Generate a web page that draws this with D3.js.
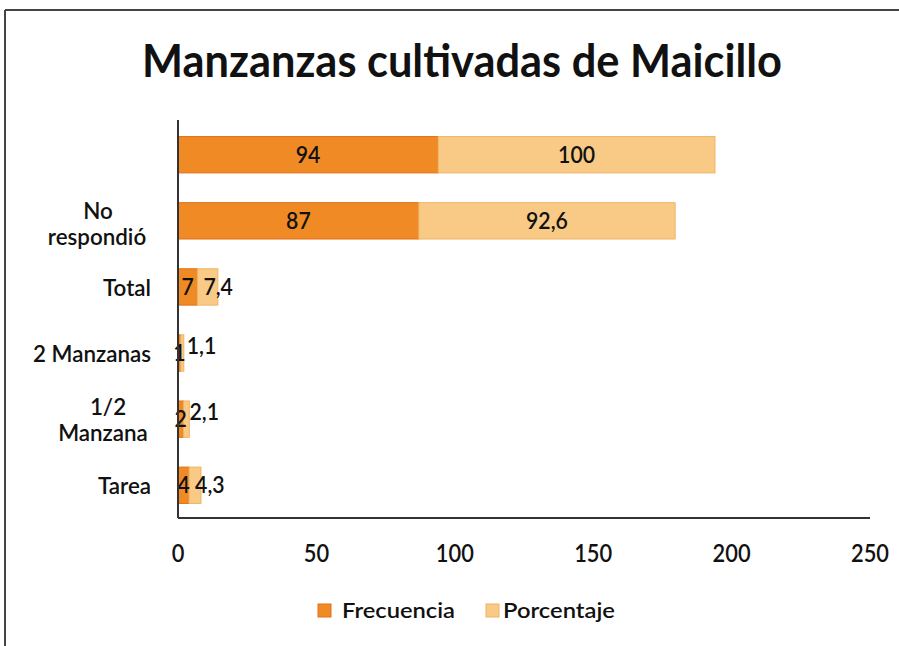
<!DOCTYPE html>
<html><head><meta charset="utf-8">
<script src="https://cdn.jsdelivr.net/npm/d3@7"></script>
<style>body{margin:0;background:#fff}svg{display:block}text{font-family:Lato,"Open Sans",sans-serif}</style>
</head><body>
<script>
const categories = ["", "No respondió", "Total", "2 Manzanas", "1/2 Manzana", "Tarea"];
const frecuencia = [94, 87, 7, 1, 2, 4];
const porcentaje = [100, 92.6, 7.4, 1.1, 2.1, 4.3];
const seriesNames = ["Frecuencia", "Porcentaje"];
const xTicks = [0, 50, 100, 150, 200, 250];
const title = "Manzanzas cultivadas de Maicillo";

const W = 899, H = 646;
const colors = ["#F08A24", "#F8CA86"];
const strokes = ["#E2701A", "#F0B464"];
const fmt = v => String(v).replace(".", ",");

const svg = d3.select("body").append("svg").attr("width", W).attr("height", H);
svg.append("rect").attr("width", W).attr("height", H).attr("fill", "#fff");
svg.append("line").attr("x1", 5).attr("x2", W).attr("y1", 10).attr("y2", 10).attr("stroke", "#444").attr("stroke-width", 2);
svg.append("line").attr("x1", 5).attr("x2", 5).attr("y1", 10).attr("y2", H).attr("stroke", "#444").attr("stroke-width", 2);

// measure helper: scale factor so that `sample` at given size/weight has width `target`
function scaleFor(sample, size, weight, target) {
  const t = svg.append("text").attr("font-size", size).attr("font-weight", weight).text(sample);
  const w = t.node().getComputedTextLength();
  t.remove();
  return target / w;
}
function txt(parent, s, x, y, size, weight, sx, anchor) {
  return parent.append("text").attr("transform", `translate(${x},${y}) scale(${sx},1)`)
    .attr("text-anchor", anchor).attr("font-size", size).attr("font-weight", weight).attr("fill", "#111").text(s);
}

const sTitle = scaleFor(title, 46, 700, 640);
txt(svg, title, 462, 77, 46, 700, sTitle, "middle");

const x = d3.scaleLinear().domain([0, 250]).range([178, 870]);
const y = d3.scaleBand().domain(d3.range(categories.length)).range([122, 518]).paddingInner(0.45).paddingOuter(0.22);

const rows = categories.map((c, i) => ({i, c, f: frecuencia[i], p: porcentaje[i]}));

const g = svg.append("g");
rows.forEach(r => {
  g.append("rect").attr("x", x(0)).attr("y", y(r.i)).attr("width", x(r.f) - x(0)).attr("height", y.bandwidth())
    .attr("fill", colors[0]).attr("stroke", strokes[0]).attr("stroke-width", 1);
  g.append("rect").attr("x", x(r.f)).attr("y", y(r.i)).attr("width", x(r.f + r.p) - x(r.f)).attr("height", y.bandwidth())
    .attr("fill", colors[1]).attr("stroke", strokes[1]).attr("stroke-width", 1);
});

// data labels
const sData = scaleFor("100", 22, 600, 37);
rows.forEach(r => {
  const cy = y(r.i) + y.bandwidth() / 2 + 8;
  txt(g, fmt(r.f), (x(0) + x(r.f)) / 2, cy, 22, 600, sData, "middle");
  const w = x(r.f + r.p) - x(r.f);
  if (w > 60) txt(g, fmt(r.p), (x(r.f) + x(r.f + r.p)) / 2, cy, 22, 600, sData, "middle");
  else txt(g, fmt(r.p), x(r.f) + 6, cy - (r.f < 3 ? 7 : 0), 22, 600, sData, "start");
});

// category labels
const sCat = scaleFor("2 Manzanas", 22, 600, 118);
rows.forEach(r => {
  if (!r.c) return;
  const cy = y(r.i) + y.bandwidth() / 2;
  if (r.c === "No respondió") {
    txt(svg, "No", 98, cy - 2, 22, 600, sCat, "middle");
    txt(svg, "respondió", 97, cy + 24, 22, 600, sCat, "middle");
  } else if (r.c === "1/2 Manzana") {
    txt(svg, "1/2", 108, cy - 4, 22, 600, sCat, "middle");
    txt(svg, "Manzana", 103, cy + 22, 22, 600, sCat, "middle");
  } else {
    txt(svg, r.c, 151, cy + 9, 22, 600, sCat, "end");
  }
});

// axes
svg.append("line").attr("x1", x(0)).attr("x2", x(0)).attr("y1", 120).attr("y2", 518).attr("stroke", "#333").attr("stroke-width", 2);
svg.append("line").attr("x1", x(0)).attr("x2", x(250)).attr("y1", 518).attr("y2", 518).attr("stroke", "#333").attr("stroke-width", 2);
const sTick = scaleFor("100", 24, 600, 38);
xTicks.forEach(d => txt(svg, d, x(d), 562, 24, 600, sTick, "middle"));

// legend
const leg = svg.append("g");
const legItems = [{sq: 318, tx: 342, tw: 113}, {sq: 486, tx: 503, tw: 112}];
legItems.forEach((it, k) => {
  leg.append("rect").attr("x", it.sq).attr("y", 604).attr("width", 13).attr("height", 13).attr("fill", colors[k])
    .attr("stroke", strokes[k]);
  const s = scaleFor(seriesNames[k], 21, 600, it.tw);
  txt(leg, seriesNames[k], it.tx, 618, 21, 600, s, "start");
});
</script>
</body></html>
